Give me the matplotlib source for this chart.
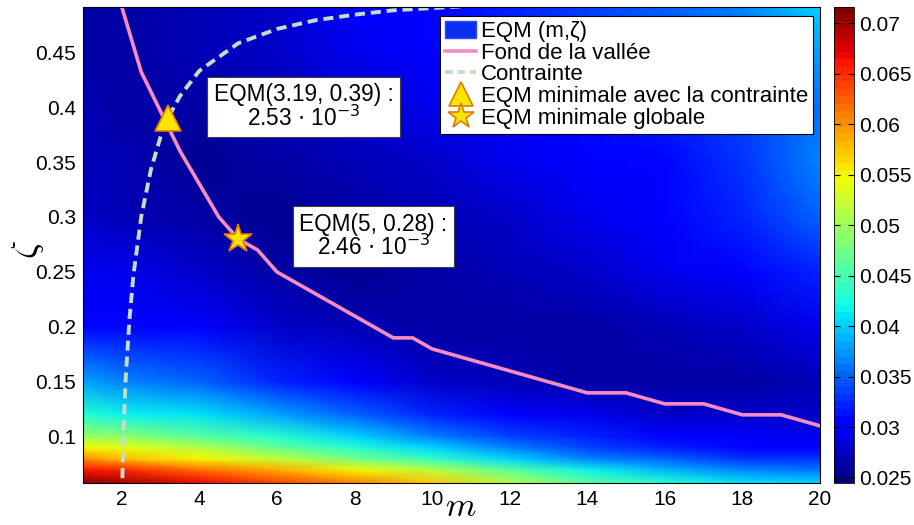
import matplotlib
matplotlib.use('Agg')
import matplotlib.pyplot as plt
import numpy as np
from matplotlib.patches import Patch
from matplotlib.lines import Line2D

plt.rcParams['font.family'] = ['Liberation Sans', 'DejaVu Sans']

# grid (EQM values by colour)
m_grid = [1, 2, 4, 6, 8, 10, 12, 14, 16, 18, 20]
zeta_grid = [0.058, 0.07, 0.08, 0.09, 0.10, 0.12, 0.15, 0.20, 0.25, 0.30, 0.35, 0.40, 0.45, 0.491]
eqm = [
    [0.072, 0.070, 0.067, 0.064, 0.061, 0.057, 0.051, 0.046, 0.043, 0.041, 0.040],
    [0.066, 0.065, 0.062, 0.059, 0.055, 0.051, 0.046, 0.042, 0.039, 0.037, 0.036],
    [0.060, 0.058, 0.055, 0.052, 0.048, 0.044, 0.040, 0.037, 0.035, 0.033, 0.033],
    [0.055, 0.054, 0.051, 0.047, 0.043, 0.040, 0.037, 0.034, 0.032, 0.031, 0.031],
    [0.050, 0.049, 0.046, 0.043, 0.040, 0.037, 0.034, 0.032, 0.030, 0.030, 0.029],
    [0.043, 0.042, 0.041, 0.038, 0.035, 0.032, 0.030, 0.029, 0.028, 0.028, 0.028],
    [0.038, 0.037, 0.035, 0.032, 0.030, 0.028, 0.027, 0.026, 0.026, 0.026, 0.027],
    [0.031, 0.031, 0.030, 0.028, 0.027, 0.026, 0.026, 0.026, 0.027, 0.028, 0.029],
    [0.029, 0.029, 0.028, 0.026, 0.0255, 0.026, 0.027, 0.028, 0.029, 0.030, 0.032],
    [0.028, 0.027, 0.026, 0.0255, 0.026, 0.027, 0.028, 0.029, 0.030, 0.032, 0.035],
    [0.027, 0.027, 0.0255, 0.026, 0.027, 0.028, 0.029, 0.030, 0.031, 0.033, 0.037],
    [0.027, 0.026, 0.026, 0.027, 0.028, 0.029, 0.030, 0.031, 0.032, 0.034, 0.036],
    [0.026, 0.026, 0.027, 0.028, 0.029, 0.030, 0.031, 0.032, 0.033, 0.035, 0.038],
    [0.026, 0.026, 0.027, 0.028, 0.030, 0.031, 0.032, 0.034, 0.035, 0.037, 0.040],
]

# valley floor
valley_m = [2.0, 2.5, 3.0, 3.5, 4.0, 4.5, 5.0, 5.5, 6.0, 6.5, 7.0, 7.5, 8.0, 8.5, 9.0, 9.5,
            10, 11, 12, 13, 14, 15, 16, 17, 18, 19, 20]
valley_z = [0.491, 0.432, 0.396, 0.36, 0.33, 0.30, 0.28, 0.27, 0.25, 0.24, 0.23, 0.22, 0.21, 0.20,
            0.19, 0.19, 0.18, 0.17, 0.16, 0.15, 0.14, 0.14, 0.13, 0.13, 0.12, 0.12, 0.11]

# constraint curve
cons_m = [2.0, 2.01, 2.02, 2.05, 2.1, 2.2, 2.3, 2.5, 2.75, 3.0, 3.19, 3.5, 4, 5, 6, 7, 8, 9, 10, 11, 12]
cons_z = [0.0, 0.050, 0.070, 0.110, 0.153, 0.208, 0.247, 0.300, 0.343, 0.373, 0.390, 0.410,
          0.433, 0.458, 0.471, 0.479, 0.484, 0.488, 0.490, 0.492, 0.493]

tri_m, tri_z = 3.19, 0.39
star_m, star_z = 5, 0.28
note_tri = 'EQM(3.19, 0.39) :\n2.53 $\\cdot$ 10$^{-3}$'
note_star = 'EQM(5, 0.28) :\n2.46 $\\cdot$ 10$^{-3}$'

xticks = [2, 4, 6, 8, 10, 12, 14, 16, 18, 20]
yticks = [0.1, 0.15, 0.2, 0.25, 0.3, 0.35, 0.4, 0.45]
ytick_labels = ['0.1', '0.15', '0.2', '0.25', '0.3', '0.35', '0.4', '0.45']
cb_ticks = [0.025, 0.03, 0.035, 0.04, 0.045, 0.05, 0.055, 0.06, 0.065, 0.07]
cb_labels = ['0.025', '0.03', '0.035', '0.04', '0.045', '0.05', '0.055', '0.06', '0.065', '0.07']
legend_labels = ['EQM (m,ζ)', 'Fond de la vallée', 'Contrainte',
                 'EQM minimale avec la contrainte', 'EQM minimale globale']

fig = plt.figure(figsize=(9.14, 5.25), dpi=100)
ax = fig.add_axes([83/914, 1-483/525, 737/914, 476/525])

cmap = plt.get_cmap('jet', 64)
M, Z = np.meshgrid(m_grid, zeta_grid)
mesh = ax.pcolormesh(M, Z, np.array(eqm), shading='gouraud', cmap=cmap, vmin=0.0245, vmax=0.0716)

pink = '#f98cbf'
green = '#c6dcc8'
ax.plot(valley_m, valley_z, color=pink, lw=2.6, solid_joinstyle='round')
ax.plot(cons_m, cons_z, color=green, lw=2.8, ls=(0, (2.6, 1.5)))
ax.plot(tri_m, tri_z, '^', ms=19, mfc='#ffe400', mec='#e07b00', mew=1.2)
ax.plot(star_m, star_z, '*', ms=21, mfc='#ffe400', mec='#e07b00', mew=1.2)

box = dict(boxstyle='square,pad=0.3', fc='white', ec='#404040', lw=0.8)
ax.text(6.69, 0.400, note_tri, ha='center', va='center', fontsize=16.3, bbox=box,
        math_fontfamily='dejavusans', linespacing=0.95)
ax.text(8.49, 0.282, note_star, ha='center', va='center', fontsize=16.3, bbox=box,
        math_fontfamily='dejavusans', linespacing=0.95)

ax.set_xlim(1, 20)
ax.set_ylim(0.058, 0.491)
ax.set_xticks(xticks)
ax.set_xticklabels([str(t) for t in xticks])
ax.set_yticks(yticks)
ax.set_yticklabels(ytick_labels)
ax.tick_params(direction='in', labelsize=15, length=0, pad=5)

ax.set_xlabel('$m$', fontsize=25, math_fontfamily='cm')
ax.xaxis.set_label_coords(0.513, -0.014)
ax.set_ylabel('$\\zeta$', fontsize=26, math_fontfamily='cm')
ax.yaxis.set_label_coords(-0.05, 0.49)

handles = [Patch(fc='#0b2df2', ec='#2a4cff'),
           Line2D([], [], color=pink, lw=2.6),
           Line2D([], [], color=green, lw=2.8, ls=(0, (2.0, 1.2))),
           Line2D([], [], ls='none', marker='^', ms=17, mfc='#ffe400', mec='#e07b00', mew=1.2),
           Line2D([], [], ls='none', marker='*', ms=19, mfc='#ffe400', mec='#e07b00', mew=1.2)]
leg = ax.legend(handles, legend_labels, loc='upper right', bbox_to_anchor=(1-7/737, 1-9/476),
                borderaxespad=0, fontsize=16, fancybox=False, edgecolor='black', framealpha=1,
                handlelength=1.4, handleheight=0.8, handletextpad=0.2, labelspacing=0.02,
                borderpad=0.22)
leg.get_frame().set_linewidth(0.8)

cax = fig.add_axes([834/914, 1-483/525, 20/914, 476/525])
cb = fig.colorbar(mesh, cax=cax)
cb.set_ticks(cb_ticks)
cb.set_ticklabels(cb_labels)
cb.ax.tick_params(direction='in', labelsize=15, length=4, left=True)
cb.outline.set_linewidth(0.6)

fig.savefig('out.png', dpi=100)
